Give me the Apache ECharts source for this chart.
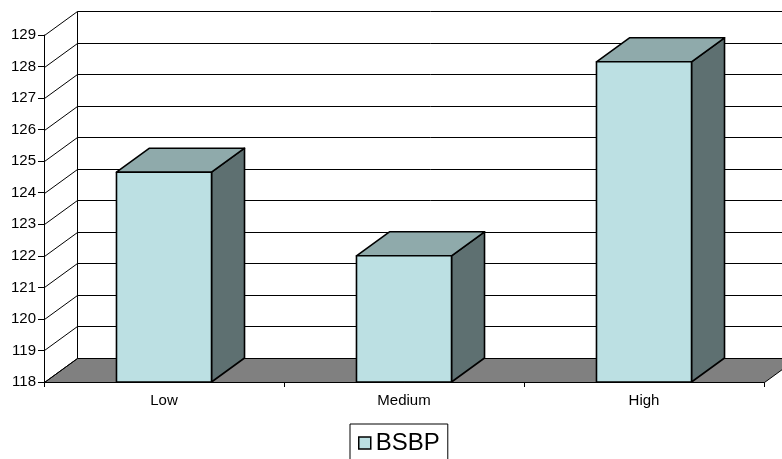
<!DOCTYPE html>
<html>
<head>
<meta charset="utf-8">
<script src="https://cdn.jsdelivr.net/npm/echarts@6/dist/echarts.min.js"></script>
<style>html,body{margin:0;padding:0;background:#fff;}#c{width:782px;height:459px;}</style>
</head>
<body>
<div id="c"></div>
<script>
const categories = ['Low', 'Medium', 'High'];
const bsbpValues = [124.65, 122.0, 128.15];
const yTickValues = [118, 119, 120, 121, 122, 123, 124, 125, 126, 127, 128, 129];
const seriesName = 'BSBP';

const DX = 33, DY = -24;
const FONT = '"Liberation Sans", Arial, sans-serif';
const C_FRONT = '#BCE0E3', C_TOP = '#8FAAAB', C_SIDE = '#5E7071', C_FLOOR = '#808080';

const chart = echarts.init(document.getElementById('c'), null, {renderer: 'canvas'});

function wallRender(params, api) {
  const cs = params.coordSys;
  const y = Math.round(api.coord([0, api.value(1)])[1]) + 0.5;
  const x0 = cs.x + 0.5;
  const v = api.value(1);
  const children = [
    {type: 'line', shape: {x1: x0, y1: y, x2: x0 + DX, y2: y + DY}, style: {stroke: '#000', lineWidth: 1}}
  ];
  if (v !== yTickValues[0]) {
    children.push({type: 'line', shape: {x1: x0 + DX, y1: y + DY, x2: cs.x + cs.width + DX + 40, y2: y + DY}, style: {stroke: '#000', lineWidth: 1}});
  }
  return {type: 'group', children: children};
}

function floorRender(params, api) {
  const cs = params.coordSys;
  const yb = Math.round(api.coord([0, yTickValues[0]])[1]) + 0.5;
  const yt = Math.round(api.coord([0, yTickValues[yTickValues.length - 1]])[1]) + 0.5;
  const x0 = cs.x + 0.5, x1 = cs.x + cs.width + 0.5;
  return {type: 'group', children: [
    {type: 'polygon', shape: {points: [[x0, yb], [x1, yb], [x1 + DX, yb + DY], [x0 + DX, yb + DY]]},
     style: {fill: C_FLOOR, stroke: '#000', lineWidth: 1}},
    {type: 'line', shape: {x1: x0 + DX, y1: yt + DY, x2: x0 + DX, y2: yb + DY}, style: {stroke: '#000', lineWidth: 1}}
  ]};
}

function barRender(params, api) {
  const idx = api.value(0);
  const top = api.coord([idx, api.value(1)]);
  const base = api.coord([idx, yTickValues[0]]);
  const bw = api.size([1, 0])[0] * 0.396;
  const xl = top[0] - bw / 2, xr = top[0] + bw / 2;
  const yt = top[1], yb = base[1];
  const st = {stroke: '#000', lineWidth: 1.6, lineJoin: 'round'};
  return {type: 'group', children: [
    {type: 'polygon', shape: {points: [[xr, yt], [xr + DX, yt + DY], [xr + DX, yb + DY], [xr, yb]]},
     style: Object.assign({fill: C_SIDE}, st)},
    {type: 'polygon', shape: {points: [[xl, yt], [xr, yt], [xr + DX, yt + DY], [xl + DX, yt + DY]]},
     style: Object.assign({fill: C_TOP}, st)},
    {type: 'polygon', shape: {points: [[xl, yt], [xr, yt], [xr, yb], [xl, yb]]},
     style: Object.assign({fill: C_FRONT}, st)}
  ]};
}

chart.setOption({
  animation: false,
  backgroundColor: '#fff',
  textStyle: {fontFamily: FONT},
  grid: {left: 44, right: 18, top: 35, bottom: 77, containLabel: false},
  legend: {
    data: [{name: seriesName, icon: 'rect', itemStyle: {color: C_FRONT, borderColor: '#000', borderWidth: 1.5}}],
    left: 350, top: 424,
    itemWidth: 12, itemHeight: 12, itemGap: 4,
    padding: [7, 8, 14, 8],
    borderColor: '#000', borderWidth: 1,
    backgroundColor: '#fff',
    selectedMode: false,
    textStyle: {fontSize: 24, color: '#000', fontFamily: FONT}
  },
  xAxis: {
    type: 'category',
    data: categories,
    boundaryGap: true,
    axisLine: {show: true, lineStyle: {color: '#000', width: 1}},
    axisTick: {show: true, length: 5, lineStyle: {color: '#000'}},
    axisLabel: {fontSize: 15, color: '#000', margin: 11, fontFamily: FONT},
    splitLine: {show: false}
  },
  yAxis: {
    type: 'value',
    min: 118, max: 129, interval: 1,
    axisLine: {show: true, lineStyle: {color: '#000', width: 1}},
    axisTick: {show: true, length: 6, lineStyle: {color: '#000'}},
    axisLabel: {fontSize: 15, color: '#000', margin: 8, fontFamily: FONT},
    splitLine: {show: false}
  },
  series: [
    {type: 'custom', name: 'floor', silent: true, z: 1, renderItem: floorRender, data: [[0, yTickValues[0]]]},
    {type: 'custom', name: 'walls', silent: true, z: 1, renderItem: wallRender, data: yTickValues.map(v => [0, v])},
    {type: 'custom', name: seriesName, z: 3, renderItem: barRender,
     itemStyle: {color: C_FRONT, borderColor: '#000', borderWidth: 1.5},
     data: bsbpValues.map((v, i) => [i, v])}
  ]
});
</script>
</body>
</html>
